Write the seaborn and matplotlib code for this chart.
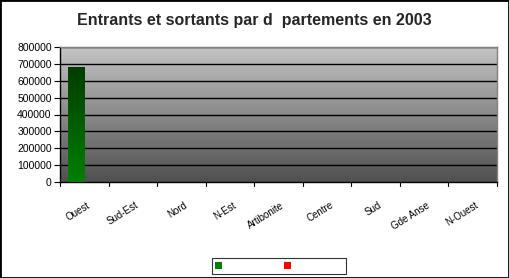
import numpy as np
import pandas as pd
import matplotlib
matplotlib.use("Agg")
import matplotlib.pyplot as plt
import seaborn as sns
from matplotlib.colors import LinearSegmentedColormap
from matplotlib.patches import Patch, Rectangle

departements = ["Ouest", "Sud-Est", "Nord", "N-Est", "Artibonite", "Centre", "Sud", "Gde Anse", "N-Ouest"]
entrants = [680000, 0, 0, 0, 0, 0, 0, 0, 0]
sortants = [0, 0, 0, 0, 0, 0, 0, 0, 0]
series_names = ["Entrants", "Sortants"]
yticks = [0, 100000, 200000, 300000, 400000, 500000, 600000, 700000, 800000]

df = pd.DataFrame({
    "dep": departements * 2,
    "val": entrants + sortants,
    "serie": [series_names[0]] * len(departements) + [series_names[1]] * len(departements),
})

sns.set_theme(style="white")
plt.rcParams["font.family"] = ["Liberation Sans", "DejaVu Sans"]

fig = plt.figure(figsize=(5.09, 2.78), dpi=100)
ax = fig.add_axes([60 / 509, 1 - 182 / 278, 437 / 509, 135 / 278])

sns.barplot(data=df, x="dep", y="val", hue="serie", palette=["#008000", "#ff0000"],
            order=departements, hue_order=series_names, width=0.68, ax=ax,
            legend=False, saturation=1, edgecolor="none")

ax.set_ylim(0, 800000)
ax.set_xlim(-0.5, len(departements) - 0.5)

# gradient background
bg = LinearSegmentedColormap.from_list("bg", ["#505050", "#c4c4c4"])
grad = np.linspace(0, 1, 256).reshape(-1, 1)
ax.imshow(grad, extent=[-0.5, len(departements) - 0.5, 0, 800000], origin="lower",
          cmap=bg, aspect="auto", zorder=0)

# gradient on bars
gcm = LinearSegmentedColormap.from_list("gr", ["#008000", "#003c00"])
for p in list(ax.patches):
    h = p.get_height()
    if h > 0:
        x0 = p.get_x(); w = p.get_width()
        im = ax.imshow(grad, extent=[x0, x0 + w, 0, h], origin="lower", cmap=gcm,
                       aspect="auto", zorder=3)
        im.set_clip_path(p)
        p.set_facecolor("none")

ax.set_xlim(-0.5, len(departements) - 0.5)
ax.set_ylim(0, 800000)
ax.set_yticks(yticks)
ax.set_yticklabels([str(v) for v in yticks], fontsize=7.5, color="black")
for v in yticks[1:]:
    ax.axhline(v, color="black", lw=1, zorder=1)

ax.set_xticks([i + 0.05 for i in range(len(departements))])
ax.set_xticklabels(departements, rotation=32, ha="right", rotation_mode="anchor",
                   fontsize=7, color="black")
ax.tick_params(axis="x", length=0, pad=13)
for i in range(len(departements) + 1):
    ax.plot([i - 0.5, i - 0.5], [0, -0.03], transform=ax.get_xaxis_transform(),
            color="black", lw=0.8, clip_on=False)
ax.tick_params(axis="y", length=4, width=0.8, color="black", direction="out", left=True, pad=2)
ax.set_xlabel("")
ax.set_ylabel("")

for s in ["top", "right"]:
    ax.spines[s].set_visible(True)
    ax.spines[s].set_color("#808080")
    ax.spines[s].set_linewidth(1)
for s in ["left", "bottom"]:
    ax.spines[s].set_color("black")
    ax.spines[s].set_linewidth(1)

fig.text(0.5, 1 - 20 / 278, "Entrants et sortants par d  partements en 2003",
         ha="center", va="center", fontsize=11.5, fontweight="bold")

handles = [Patch(facecolor="#008000", edgecolor="none"), Patch(facecolor="#ff0000", edgecolor="none")]
pad_label = " " * 16
leg = fig.legend(handles, [pad_label, pad_label], loc="center", bbox_to_anchor=(279 / 509, 1 - 266 / 278),
                 ncol=2, frameon=True, fontsize=7, handlelength=0.7, handleheight=0.7,
                 handletextpad=0.8, columnspacing=1.1, borderpad=0.3, borderaxespad=0,
                 fancybox=False)
leg.get_frame().set_edgecolor("black")
leg.get_frame().set_linewidth(0.8)

fig.patches.append(Rectangle((0, 0), 1, 1, transform=fig.transFigure, fill=False,
                             edgecolor="black", lw=2))

fig.savefig("out.png", dpi=100)
